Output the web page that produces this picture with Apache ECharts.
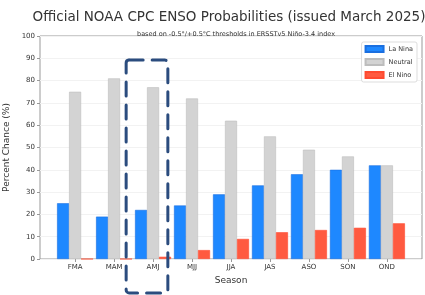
<!DOCTYPE html>
<html><head><meta charset="utf-8">
<script src="https://cdn.jsdelivr.net/npm/echarts@6/dist/echarts.min.js"></script>
<style>html,body{margin:0;padding:0;background:#fff}#c{width:425px;height:295px}</style>
</head><body><div id="c"></div>
<script>
const seasons = ['FMA','MAM','AMJ','MJJ','JJA','JAS','ASO','SON','OND'];
const laNina  = [25,19,22,24,29,33,38,40,42];
const neutral = [75,81,77,72,62,55,49,46,42];
const elNino  = [0,0,1,4,9,12,13,14,16];
const highlight = 'AMJ';

const font = 'DejaVu Sans';
const chart = echarts.init(document.getElementById('c'), null, {renderer:'canvas'});
const idx = seasons.map((s,i)=>i);
function mk(name, vals, color, border){
  return {name, type:'bar', barWidth:12, barGap:'0%',
    data: vals.map((v,i)=>[i,v]),
    itemStyle:{color, borderColor:border, borderWidth:0.6},
    emphasis:{disabled:true}};
}
chart.setOption({
  animation:false,
  textStyle:{fontFamily:font},
  title:[{text:'Official NOAA CPC ENSO Probabilities (issued March 2025)', left:224, textAlign:'center', top:5,
    textStyle:{fontFamily:font, fontSize:13.5, fontWeight:'normal', color:'#333'}},
    {text:'based on -0.5°/+0.5°C thresholds in ERSSTv5 Niño-3.4 index', left:231, textAlign:'center', top:26,
    textStyle:{fontFamily:font, fontSize:6.5, fontWeight:'normal', color:'#333'}}],
  legend:{orient:'vertical', right:8, top:42, itemWidth:18, itemHeight:6, itemGap:5,
    backgroundColor:'#fff', borderColor:'#ddd', borderWidth:1, borderRadius:2, padding:[3,4,3,3],
    textStyle:{fontFamily:font, fontSize:6.5, color:'#333'}, icon:'rect',
    data:['La Nina','Neutral','El Nino']},
  grid:{left:40, right:3, top:36, bottom:36, containLabel:false, outerBoundsMode:'none',
    show:true, borderColor:'#999', borderWidth:1, backgroundColor:'#fff'},
  xAxis:{type:'value', min:-0.9, max:8.9, name:'Season', nameLocation:'middle', nameGap:16,
    nameTextStyle:{fontFamily:font, fontSize:9, color:'#333'},
    axisLine:{show:false, onZero:false}, splitLine:{show:false},
    axisTick:{show:true, customValues:idx, length:3, lineStyle:{color:'#999'}},
    axisLabel:{customValues:idx, fontSize:7, color:'#333', margin:5, formatter:(v)=>seasons[Math.round(v)]}},
  yAxis:{type:'value', min:0, max:100, interval:10, name:'Percent Chance (%)', nameLocation:'middle', nameGap:22,
    nameTextStyle:{fontFamily:font, fontSize:9, color:'#333'},
    axisLine:{show:false, onZero:false}, axisTick:{show:true, length:3, lineStyle:{color:'#999'}},
    axisLabel:{fontSize:7, color:'#333', margin:5},
    splitLine:{show:true, lineStyle:{color:'#f2f2f2', width:1}}},
  series:[mk('La Nina', laNina, '#1e88ff', '#1a6fe0'), mk('Neutral', neutral, '#d3d3d3', '#bdbdbd'), mk('El Nino', elNino, '#ff5a40', '#ff4a30')]
});
const h = seasons.indexOf(highlight);
const p1 = chart.convertToPixel({gridIndex:0}, [h-0.69, 89.2]);
const p2 = chart.convertToPixel({gridIndex:0}, [h+0.38, -15.2]);
chart.setOption({graphic:[{type:'rect', z:100, shape:{x:p1[0], y:p1[1], width:p2[0]-p1[0], height:p2[1]-p1[1], r:3},
  style:{fill:'none', stroke:'#2b4c7e', lineWidth:3, lineDash:[14,9], lineCap:'round'}}]});
</script></body></html>
